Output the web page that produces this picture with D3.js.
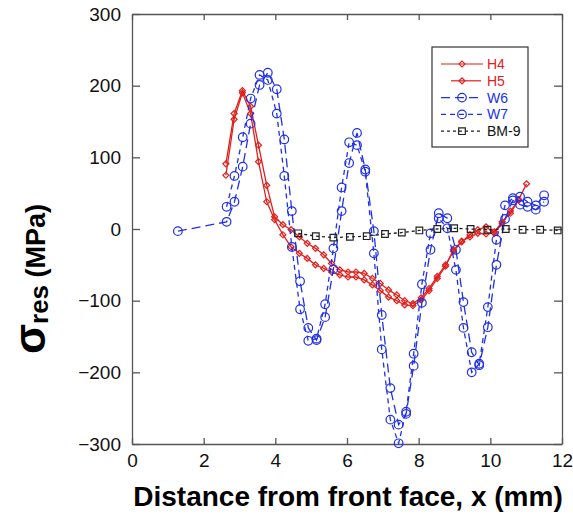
<!DOCTYPE html>
<html>
<head>
<meta charset="utf-8">
<script src="https://cdn.jsdelivr.net/npm/d3@7"></script>
<style>
body { margin: 0; background: #fff; }
svg text { font-family: "Liberation Sans", Arial, sans-serif; }
</style>
</head>
<body>
<div id="chart"></div>
<script>
// residual stress profiles
var redX = [2.62, 2.85, 3.08, 3.31, 3.53, 3.76, 3.98, 4.21, 4.44, 4.67, 4.89, 5.12, 5.35,
    5.57, 5.80, 6.03, 6.25, 6.48, 6.71, 6.93, 7.16, 7.39, 7.61, 7.84, 8.07, 8.29, 8.52,
    8.75, 8.97, 9.20, 9.43, 9.65, 9.88, 10.11, 10.33, 10.56, 10.79, 11.01];
var h4 = [91, 161, 193, 171, 117, 61, 17, 6, -1, -11, -20, -27, -36, -48, -57, -60, -60,
    -62, -69, -76, -85, -92, -100, -104, -96, -83, -66, -50, -31, -18, -8, -1, 3, -6, 8,
    25, 40];
var h5 = [75, 153, 190, 161, 94, 38, 13, -8, -25, -34, -41, -50, -55, -60, -64, -67, -67,
    -71, -78, -86, -95, -100, -106, -107, -99, -86, -69, -52, -29, -17, -11, -6, -7, -4,
    10, 22, 41, 63];

var blueX = [2.64, 2.86, 3.09, 3.31, 3.56, 3.79, 4.04, 4.25, 4.46, 4.69, 4.92, 5.15, 5.39,
    5.62, 5.85, 6.06, 6.28, 6.51, 6.75, 6.97, 7.21, 7.44, 7.65, 7.86, 8.09, 8.33, 8.56,
    8.80, 9.04, 9.25, 9.48, 9.69, 9.93, 10.17, 10.41, 10.63, 10.83, 11.04, 11.27, 11.50];
var w6X = [1.28].concat(blueX);
var w6 = [-3, 10, 38, 87, 147, 201, 218, 195, 125, 25, -73, -138, -155, -123, -56, 25, 92,
    134, 83, -3, -120, -222, -273, -258, -191, -103, -29, 22, 15, -29, -102, -172, -190,
    -137, -50, 14, 40, 34, 31, 27, 38];
var w7 = [31, 74, 128, 182, 215, 208, 161, 74, -25, -112, -156, -153, -105, -27, 58, 121,
    117, 80, -34, -168, -266, -299, -255, -174, -77, -6, 15, 1, -57, -138, -200, -188,
    -109, -15, 33, 43, 45, 38, 33, 47];

var bmX = [4.64, 5.13, 5.62, 6.08, 6.55, 7.06, 7.53, 8.02, 8.52, 8.99, 9.45, 9.92, 10.43,
    10.90, 11.39, 11.88];
var bm9 = [-6, -10, -12, -11, -10, -7, -5, -2, 0, 1, 0, -1, 0, -1, -1, -2];

var xTicks = [0, 2, 4, 6, 8, 10, 12];
var yTicks = [-300, -200, -100, 0, 100, 200, 300];

var red = "#e0201c", blue = "#2030e8", black = "#222";

var width = 573,
    height = 518;

var svg = d3.select("#chart")
    .append("svg")
    .attr("width", width)
    .attr("height", height);

var xScale = d3.scaleLinear().domain([0, 12]).range([132, 562]);
var yScale = d3.scaleLinear().domain([-300, 300]).range([444, 14]);

function pts(xs, vs) {
    return vs.map(function(v, i) { return {x: xs[i], v: v}; });
}

var line = d3.line()
    .x(function(d) { return xScale(d.x); })
    .y(function(d) { return yScale(d.v); });

var series = [
    {name: "H4", data: pts(redX, h4), color: red, dash: null, mark: "diamond"},
    {name: "H5", data: pts(redX, h5), color: red, dash: null, mark: "diamond"},
    {name: "W6", data: pts(w6X, w6), color: blue, dash: "9,5", mark: "circle"},
    {name: "W7", data: pts(blueX, w7), color: blue, dash: "5,4", mark: "circle"},
    {name: "BM-9", data: pts(bmX, bm9), color: black, dash: "3,3", mark: "square"}
];

function marker(g, type, color) {
    if (type == "circle") {
        g.append("circle").attr("r", 4.3);
    } else if (type == "diamond") {
        g.append("path").attr("d", d3.symbol(d3.symbolSquare, 18)()).attr("transform", "rotate(45)");
    } else {
        g.append("path").attr("d", d3.symbol(d3.symbolSquare, 44)());
    }
    g.selectAll("*").attr("fill", "none").attr("stroke", color).attr("stroke-width", 1.2);
}

// axes (boxed, ticks inside)
var yAxis = d3.axisLeft(yScale).tickValues(yTicks).tickSize(-8).tickSizeOuter(0).tickPadding(11);
var yAxisR = d3.axisRight(yScale).tickValues(yTicks).tickSize(-8).tickSizeOuter(0).tickFormat("");
var xAxis = d3.axisBottom(xScale).tickValues(xTicks).tickSize(-6).tickSizeOuter(0).tickPadding(10);
var xAxisT = d3.axisTop(xScale).tickValues(xTicks).tickSize(-6).tickSizeOuter(0).tickFormat("");

svg.append("g").attr("transform", "translate(132,0)").attr("class", "axis").call(yAxis);
svg.append("g").attr("transform", "translate(562,0)").attr("class", "axis").call(yAxisR);
svg.append("g").attr("transform", "translate(0,444)").attr("class", "axis").call(xAxis);
svg.append("g").attr("transform", "translate(0,14)").attr("class", "axis").call(xAxisT);

svg.selectAll(".axis path, .axis line").attr("stroke", "#555").attr("stroke-width", 1.3);
svg.selectAll(".axis text").attr("font-size", 19).attr("fill", "#111")
    .attr("font-family", "Liberation Sans, Arial, sans-serif");

// series
series.forEach(function(s) {
    svg.append("path")
        .attr("d", line(s.data))
        .attr("fill", "none")
        .attr("stroke", s.color)
        .attr("stroke-width", 1.3)
        .attr("stroke-dasharray", s.dash);
    svg.append("g").selectAll("g")
        .data(s.data)
        .enter().append("g")
        .attr("transform", function(d) { return "translate(" + xScale(d.x) + "," + yScale(d.v) + ")"; })
        .each(function() { marker(d3.select(this), s.mark, s.color); });
});

// legend
var legend = svg.append("g");
legend.append("rect")
    .attr("x", 432).attr("y", 47).attr("width", 96).attr("height", 100)
    .attr("fill", "#fff").attr("stroke", "#333").attr("stroke-width", 1.2);
var legendX = [[441, 483], [451, 481], [441, 483], [441, 483], [441, 483]];
series.forEach(function(s, i) {
    var ly = 64 + i * 16.8;
    legend.append("line")
        .attr("x1", legendX[i][0]).attr("x2", legendX[i][1]).attr("y1", ly).attr("y2", ly)
        .attr("stroke", s.color).attr("stroke-width", 1.2)
        .attr("stroke-dasharray", s.dash);
    marker(legend.append("g").attr("transform", "translate(462," + ly + ")"), s.mark, s.color);
    legend.append("text")
        .attr("x", 487).attr("y", ly + 5)
        .attr("font-size", 14)
        .attr("fill", s.color == black ? "#111" : s.color)
        .text(s.name);
});

// axis titles
svg.append("text")
    .attr("x", 348).attr("y", 506)
    .attr("text-anchor", "middle")
    .attr("font-size", 28).attr("font-weight", "bold")
    .text("Distance from front face, x (mm)");

var ylab = svg.append("text")
    .attr("transform", "translate(45,279) rotate(-90)")
    .attr("text-anchor", "middle")
    .attr("font-weight", "bold");
ylab.append("tspan").attr("font-size", 44).text("σ");
ylab.append("tspan").attr("font-size", 26).attr("dy", 3).text("res");
ylab.append("tspan").attr("font-size", 27).attr("dy", -3).text(" (MPa)");
</script>
</body>
</html>
